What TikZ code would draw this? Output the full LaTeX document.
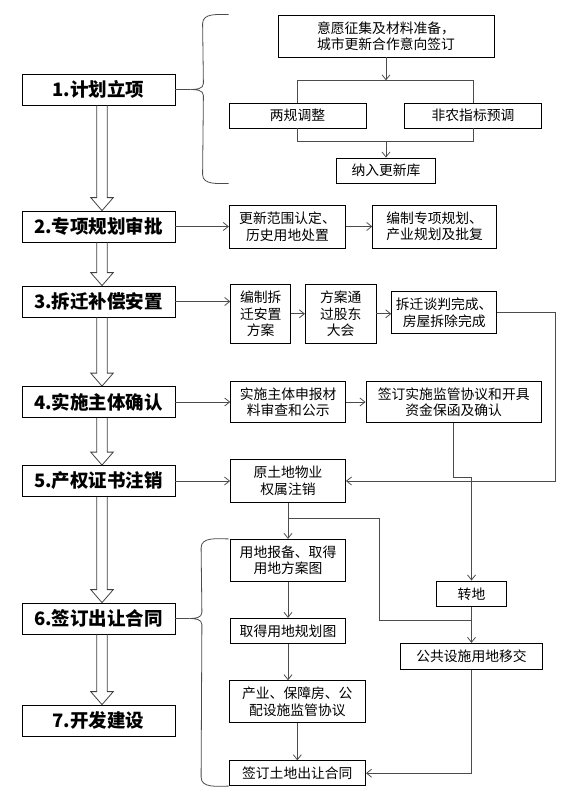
\documentclass[tikz,border=0pt]{standalone}
\usepackage{fontspec}
\setmainfont{Noto Sans CJK SC}
\usetikzlibrary{arrows.meta,positioning,calc}

\begin{document}
\begin{tikzpicture}[
  x=1pt, y=1pt,
  line width=0.8pt,
  font=\fontsize{13.8}{16.5}\selectfont,
  stage/.style={draw, minimum width=153pt, minimum height=31pt, inner sep=0pt,
    font=\fontsize{18.5}{20}\selectfont\bfseries},
  box/.style ={draw, inner sep=0pt, align=center},
  conn/.style={draw=black!70},
  hollow/.style={draw=black!75},
  >={Straight Barb[length=5pt,width=8pt]}
]
\useasboundingbox (0,0) rectangle (575,-795);

% stages
\node[stage] (s1) at (98.5,-89.5) {1.计划立项};
\node[stage] (s2) at (98.5,-226.5) {2.专项规划审批};
\node[stage] (s3) at (98.5,-301.5) {3.拆迁补偿安置};
\node[stage] (s4) at (98.5,-402) {4.实施主体确认};
\node[stage] (s5) at (98.5,-481) {5.产权证书注销};
\node[stage] (s6) at (98.5,-618.5) {6.签订出让合同};
\node[stage] (s7) at (98.5,-720.5) {7.开发建设};

% stage 1
\node[box, minimum width=216pt, minimum height=42pt] (plan) at (386,-36)
  {意愿征集及材料准备，\\城市更新合作意向签订};
\node[box, minimum width=137pt, minimum height=25pt] (lg) at (297.5,-115.5) {两规调整};
\node[box, minimum width=137.5pt, minimum height=25pt] (fn) at (473,-115.5) {非农指标预调};
\node[box, minimum width=99.5pt, minimum height=25pt] (rk) at (386,-170.5) {纳入更新库};

% stage 2
\node[box, minimum width=116.5pt, minimum height=43pt] (fw) at (287.5,-226.5)
  {更新范围认定、\\历史用地处置};
\node[box, minimum width=124pt, minimum height=43pt] (zx) at (434.7,-226.5)
  {编制专项规划、\\产业规划及批复};

% stage 3
\node[box, minimum width=60pt, minimum height=59pt] (cq) at (260.7,-313.8) {编制拆\\迁安置\\方案};
\node[box, minimum width=70.7pt, minimum height=59pt] (fa) at (340.7,-313.8) {方案通\\过股东\\大会};
\node[box, minimum width=105pt, minimum height=41.6pt] (tp) at (444.2,-312.5)
  {拆迁谈判完成、\\房屋拆除完成};

% stage 4
\node[box, minimum width=115pt, minimum height=41.6pt] (ss) at (288.2,-402)
  {实施主体申报材\\料审查和公示};
\node[box, minimum width=175.5pt, minimum height=41.6pt] (jg) at (453.7,-402)
  {签订实施监管协议和开具\\资金保函及确认};

% stage 5 and 6
\node[box, minimum width=115pt, minimum height=43pt] (yt) at (288,-481) {原土地物业\\权属注销};
\node[box, minimum width=115.7pt, minimum height=42.4pt] (yb) at (288,-560.5)
  {用地报备、取得\\用地方案图};
\node[box, minimum width=115pt, minimum height=25pt] (gh) at (288,-630.8) {取得用地规划图};
\node[box, minimum width=136.6pt, minimum height=42pt] (cy) at (297.3,-701.7)
  {产业、保障房、公\\配设施监管协议};
\node[box, minimum width=136.6pt, minimum height=25pt] (ht) at (297.3,-773.2) {签订土地出让合同};
\node[box, minimum width=70.7pt, minimum height=25.7pt] (zd) at (471.5,-593.8) {转地};
\node[box, minimum width=142pt, minimum height=26pt] (gg) at (471.5,-656.3) {公共设施用地移交};

% hollow arrows between stages
\foreach \a/\b in {s1/s2,s2/s3,s3/s4,s4/s5,s5/s6,s6/s7}
  \draw[hollow] ($(\a.south)+(-1.8,0)$) -- ($(\b.north)+(-1.8,13)$) -- ($(\b.north)+(-7.8,13)$)
    -- ($(\b.north)+(3.5,0)$) -- ($(\b.north)+(14.8,13)$) -- ($(\b.north)+(8.8,13)$)
    -- ($(\a.south)+(8.8,0)$);

% brace of stage 1
\coordinate (btip1) at ($(s1.east)+(15,0)$);
\coordinate (bt1) at (lg.west |- plan.north);
\coordinate (bb1) at (lg.west |- rk.south);
\draw[conn] (s1.east) -- (btip1);
\draw[conn] (bt1) to[out=180,in=90] ++(-26,-9) -- ($(btip1)+(13,6)$) to[out=-90,in=0] (btip1)
  to[out=0,in=90] ($(btip1)+(13,-6)$) -- ($(bb1)+(-26,9)$) to[out=-90,in=180] (bb1);

\coordinate (ft) at ($(plan.south)+(0,-23)$);
\coordinate (fb) at ($(rk.north)+(0,16)$);
\draw[conn,->] (plan.south) -- (ft);
\draw[conn] (lg.north) |- (ft) -| (fn.north);
\draw[conn] (lg.south) |- (fb) -| (fn.south);
\draw[conn,->] (fb) -- (rk.north);

\draw[conn,->] (s2.east) -- (fw.west);
\draw[conn,->] (fw.east) -- (zx.west);

\draw[conn,->] (s3.east) -- (s3.east -| cq.west);
\draw[conn,->] (cq.east) -- (fa.west);
\draw[conn,->] (fa.east) -- (fa.east -| tp.west);
\draw[conn,->] (tp.east) -- ++(58.3,0) |- (yt.east);

\draw[conn,->] (s4.east) -- (ss.west);
\draw[conn,->] (ss.east) -- (jg.west);
\draw[conn,->] (jg.south) -- ++(0,-54) -| (zd.north);
\draw[conn,->] (zd.south) -- (gg.north);

\draw[conn,->] (s5.east) -- (yt.west);
\draw[conn,->] (yt.south) -- (yb.north);
\coordinate (br) at ($(yt.south)+(0,-15)$);
\coordinate (jn) at ($(zd.south)!0.37!(gg.north)$);
\draw[conn] (br) -- ++(91.5,0) |- (jn);
\draw[conn,->] (yb.south) -- (gh.north);
\draw[conn,->] (gh.south) -- (gh.south |- cy.north);
\draw[conn,->] (cy.south) -- (ht.north);
\draw[conn,->] (gg.south) |- (ht.east);

% brace of stage 6
\coordinate (btip2) at ($(s6.east)+(14,0)$);
\coordinate (bt2) at (ht.west |- yb.north);
\coordinate (bb2) at (ht.south west);
\draw[conn] (s6.east) -- (btip2);
\draw[conn] (bt2) to[out=180,in=90] ++(-27.5,-9) -- ($(btip2)+(12.5,6)$) to[out=-90,in=0] (btip2)
  to[out=0,in=90] ($(btip2)+(12.5,-6)$) -- ($(bb2)+(-27.5,9)$) to[out=-90,in=180] (bb2);
\end{tikzpicture}
\end{document}
